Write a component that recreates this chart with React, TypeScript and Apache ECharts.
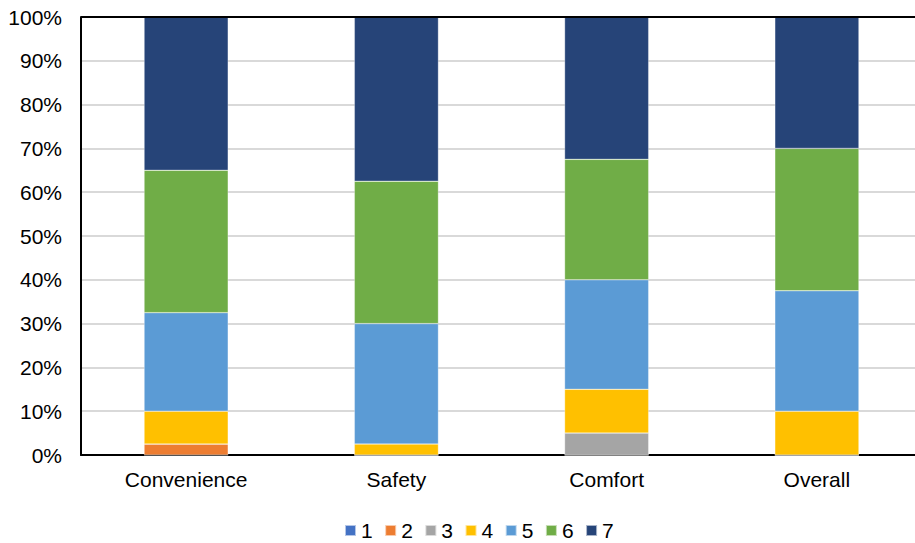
import React, { useEffect, useRef } from "react";
import * as echarts from "echarts";

// Share of ratings (percent) per aspect, stacked to 100%
const categories = ["Convenience", "Safety", "Comfort", "Overall"];
const seriesNames = ["1", "2", "3", "4", "5", "6", "7"];
const rating1 = [0, 0, 0, 0];
const rating2 = [2.5, 0, 0, 0];
const rating3 = [0, 0, 5, 0];
const rating4 = [7.5, 2.5, 10, 10];
const rating5 = [22.5, 27.5, 25, 27.5];
const rating6 = [32.5, 32.5, 27.5, 32.5];
const rating7 = [35, 37.5, 32.5, 30];
const yTicks = [0, 10, 20, 30, 40, 50, 60, 70, 80, 90, 100];

const colors = ["#4472C4", "#ED7D31", "#A5A5A5", "#FFC000", "#5B9BD5", "#70AD47", "#264478"];
const values = [rating1, rating2, rating3, rating4, rating5, rating6, rating7];

const FONT = "'Liberation Sans', Arial, sans-serif";
const FS = 21;

export default function App() {
  const ref = useRef<HTMLDivElement>(null);

  useEffect(() => {
    if (!ref.current) return;
    const chart = echarts.init(ref.current, undefined, { renderer: "svg" });
    chart.setOption({
      animation: false,
      textStyle: { fontFamily: FONT },
      grid: { left: 81, top: 17, width: 841, height: 438, containLabel: false },
      legend: {
        data: seriesNames,
        top: 520,
        left: 344,
        padding: 0,
        itemWidth: 11,
        itemHeight: 11,
        itemGap: 11.5,
        icon: "rect",
        textStyle: { fontSize: FS, color: "#000", fontFamily: FONT },
      },
      xAxis: {
        type: "category",
        data: categories,
        axisLine: { show: true, lineStyle: { color: "#000", width: 2 } },
        axisTick: { show: false },
        axisLabel: { fontSize: FS, color: "#000", margin: 14, fontFamily: FONT },
      },
      yAxis: {
        type: "value",
        min: yTicks[0],
        max: yTicks[yTicks.length - 1],
        interval: 10,
        axisLine: { show: true, lineStyle: { color: "#000", width: 2 } },
        axisTick: { show: false },
        splitLine: { show: true, lineStyle: { color: "#D9D9D9", width: 2 } },
        axisLabel: {
          fontSize: FS,
          color: "#000",
          margin: 19,
          fontFamily: FONT,
          formatter: (v: number) => `${v}%`,
        },
      },
      graphic: [
        {
          type: "line",
          shape: { x1: 81, y1: 17, x2: 930, y2: 17 },
          style: { stroke: "#000", lineWidth: 2 },
          z: 100,
        },
      ],
      series: seriesNames.map((name, i) => ({
        name,
        type: "bar",
        stack: "total",
        barWidth: "40%",
        data: values[i],
        itemStyle: { color: colors[i], borderColor: "rgba(255,255,255,0.6)", borderWidth: 0.5 },
      })),
    });
    return () => chart.dispose();
  }, []);

  return (
    <div
      style={{ position: "fixed", left: 0, top: 0, width: 915, height: 543, overflow: "hidden", background: "#fff" }}
    >
      <div ref={ref} style={{ width: 930, height: 543 }} />
    </div>
  );
}
